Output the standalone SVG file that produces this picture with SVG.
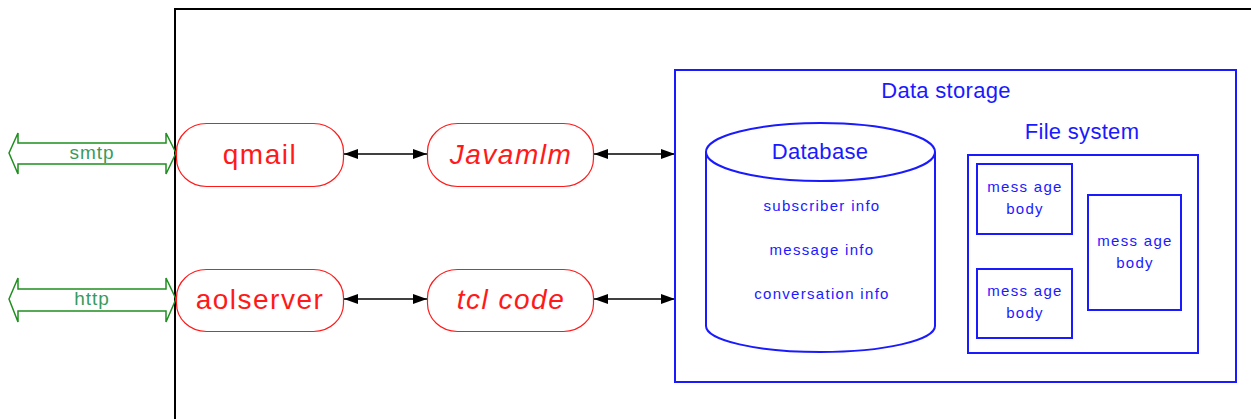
<svg xmlns="http://www.w3.org/2000/svg" width="1251" height="419" viewBox="0 0 1251 419">
<style>
.proto{fill:none;stroke:#1f8f1f;stroke-width:1.5}
.ptxt{fill:#3a9a5e;font-family:"Liberation Sans",Arial,sans-serif;font-size:19px;letter-spacing:1px;text-anchor:middle}
.proc{fill:#fff;stroke:#ff1a1a;stroke-width:1.2}
.rtxt{fill:#ff1a1a;font-family:"Liberation Sans",Arial,sans-serif;font-size:28px;letter-spacing:1.5px;text-anchor:middle}
.it{font-style:italic}
.blue{fill:none;stroke:#1a1aff;stroke-width:2}
.btxt{fill:#1a1aff;font-family:"Liberation Sans",Arial,sans-serif;text-anchor:middle}
.big{font-size:22px;letter-spacing:0.3px}
.small{font-size:15px;letter-spacing:1.3px}
.conn{stroke:#000;stroke-width:1.5;fill:none;marker-start:url(#ah);marker-end:url(#ah)}
</style>
<defs>
<marker id="ah" viewBox="0 0 14 10" refX="14" refY="5" markerWidth="14" markerHeight="10" markerUnits="userSpaceOnUse" orient="auto-start-reverse">
<path d="M0,0 L14,5 L0,10 Z" fill="#000"/>
</marker>
</defs>
<rect width="1251" height="419" fill="#fff"/>
<g id="frame">
<path d="M175,419 V9 H1251" fill="none" stroke="#000" stroke-width="2"/>
</g>
<g id="smtp">
<polygon class="proto" points="9,153 18,133 18,143 166,143 166,133 176,153 166,174 166,164 18,164 18,174"/>
<text class="ptxt" x="92" y="159">smtp</text>
</g>
<g id="http">
<polygon class="proto" points="9,299 18,278 18,289 166,289 166,278 176,299 166,322 166,311 18,311 18,322"/>
<text class="ptxt" x="92" y="305">http</text>
</g>
<g id="qmail">
<rect class="proc" x="176.5" y="123.5" width="167" height="63" rx="30" ry="28"/>
<text class="rtxt" x="260" y="164">qmail</text>
</g>
<g id="aolserver">
<rect class="proc" x="176.5" y="269.5" width="167" height="62" rx="30" ry="28"/>
<text class="rtxt" x="260" y="309">aolserver</text>
</g>
<g id="javamlm">
<rect class="proc" x="427.5" y="123.5" width="166" height="63" rx="30" ry="28"/>
<text class="rtxt it" x="511" y="164">Javamlm</text>
</g>
<g id="tclcode">
<rect class="proc" x="427.5" y="269.5" width="166" height="62" rx="30" ry="28"/>
<text class="rtxt it" x="511" y="309">tcl code</text>
</g>
<g id="connectors">
<line class="conn" x1="344" y1="154" x2="427" y2="154"/>
<line class="conn" x1="594" y1="154" x2="675" y2="154"/>
<line class="conn" x1="344" y1="299" x2="427" y2="299"/>
<line class="conn" x1="594" y1="299" x2="675" y2="299"/>
</g>
<g id="datastorage">
<rect class="blue" x="675" y="70" width="561" height="312"/>
<text class="btxt big" x="946" y="98">Data storage</text>
</g>
<g id="database">
<path class="blue" d="M706,152 V326 A114.5,26 0 0 0 935,326 V152"/>
<ellipse class="blue" cx="820.5" cy="152" rx="114.5" ry="29"/>
<text class="btxt big" x="820" y="159">Database</text>
<text class="btxt small" x="822" y="211">subscriber info</text>
<text class="btxt small" x="822" y="255">message info</text>
<text class="btxt small" x="822" y="299">conversation info</text>
</g>
<g id="filesystem">
<rect class="blue" x="968" y="155" width="230" height="198"/>
<text class="btxt big" x="1082" y="139">File system</text>
</g>
<g id="body1">
<rect class="blue" x="977" y="164" width="95" height="70"/>
<text class="btxt small" x="1025" y="192">mess age</text>
<text class="btxt small" x="1025" y="214">body</text>
</g>
<g id="body2">
<rect class="blue" x="977" y="269" width="95" height="69"/>
<text class="btxt small" x="1025" y="296">mess age</text>
<text class="btxt small" x="1025" y="318">body</text>
</g>
<g id="body3">
<rect class="blue" x="1088" y="195" width="93" height="115"/>
<text class="btxt small" x="1135" y="246">mess age</text>
<text class="btxt small" x="1135" y="268">body</text>
</g>
</svg>
